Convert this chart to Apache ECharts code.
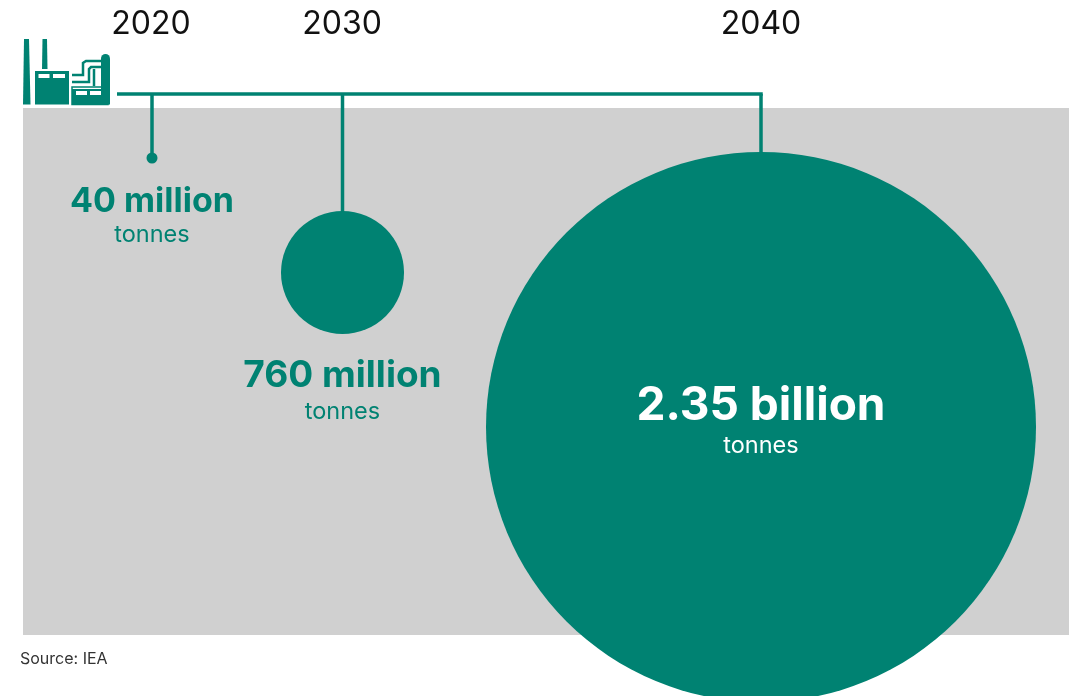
<!DOCTYPE html>
<html><head><meta charset="utf-8">
<style>html,body{margin:0;padding:0;background:#fff;overflow:hidden}#c{width:1079px;height:696px}</style>
<script src="https://cdn.jsdelivr.net/npm/echarts@6/dist/echarts.min.js"></script>
</head><body><div id="c"></div>
<script>
const years = ['2020', '2030', '2040'];
const amounts = ['40 million', '760 million', '2.35 billion'];
const unit = 'tonnes';
const source = 'Source: IEA';

// Layout of the infographic, in page units
const TEAL = '#008272', GREY = '#d0d0d0', FONT = 'Inter, "Noto Sans", sans-serif';
const yearX = [152, 342.5, 761];
const bubbleTop = [152.5, 211, 152];
const bubbleSize = [11, 123, 550];
const amountY = [202, 376, 406];
const amountFont = [34, 37, 46];
const unitY = [235, 412, 446];
const unitFont = [23.5, 23.5, 23.5];
const unitColor = [TEAL, TEAL, '#ffffff'];
const amountColor = [TEAL, TEAL, '#ffffff'];
const railY = 94, railStart = 117;

const textSeries = (name, data) => ({
  type: 'scatter', name, symbolSize: 0, silent: true, z: 10, data,
  itemStyle: {opacity: 1},
  label: {show: true, position: 'inside', formatter: p => p.data.text, opacity: 1,
    fontFamily: FONT, align: 'center', verticalAlign: 'middle'},
  labelLayout: {hideOverlap: false}
});

const option = {
  animation: false,
  title: {text: source, left: 20, top: 651, padding: 0, textStyle: {fontFamily: FONT, fontSize: 16, fontWeight: 400, color: '#333'}},
  grid: {left: 0, right: 0, top: 0, bottom: 0},
  xAxis: {type: 'value', min: 0, max: 1079, show: false},
  yAxis: {type: 'value', min: 0, max: 696, inverse: true, show: false},
  graphic: {elements: [{
    type: 'group', left: 23, top: 39, z: 20,
    children: [
      {type:'polygon',shape:{points:[[1,0],[6,0],[7.5,65.5],[0,65.5]]},style:{fill:TEAL}},
      {type:'polygon',shape:{points:[[19.5,0],[24,0],[24.5,30],[19,30]]},style:{fill:TEAL}},
      {type:'rect',shape:{x:12,y:32,width:34,height:33.5},style:{fill:TEAL}},
      {type:'rect',shape:{x:15.5,y:35,width:11,height:4},style:{fill:'#fff'}},
      {type:'rect',shape:{x:30,y:35,width:12,height:4},style:{fill:'#fff'}},
      {type:'rect',shape:{x:49,y:48,width:36,height:17.5},style:{fill:'none',stroke:TEAL,lineWidth:1.5}},
      {type:'rect',shape:{x:49,y:50,width:34,height:15.5},style:{fill:TEAL}},
      {type:'rect',shape:{x:53,y:52,width:11,height:4},style:{fill:'#fff'}},
      {type:'rect',shape:{x:67,y:52,width:12,height:4},style:{fill:'#fff'}},
      {type:'rect',shape:{x:78,y:15,width:9,height:50.5,r:[4.5,4.5,0,0]},style:{fill:TEAL}},
      {type:'polyline',shape:{points:[[49,36],[60,36],[60,24],[63,22],[78,22]]},style:{fill:'none',stroke:TEAL,lineWidth:2.5}},
      {type:'polyline',shape:{points:[[49,43],[66,43],[66,30],[68,28],[78,28]]},style:{fill:'none',stroke:TEAL,lineWidth:2.5}},
      {type:'line',shape:{x1:71,y1:30,x2:71,y2:47},style:{stroke:TEAL,lineWidth:2.5}}
    ]
  }]},
  series: [
    {type: 'line', silent: true, symbol: 'none', z: 1, data: [],
     markArea: {silent: true, itemStyle: {color: GREY, opacity: 1}, data: [[{coord: [23, 108]}, {coord: [1069, 635]}]]}},
    {type: 'line', silent: true, symbol: 'none', z: 3, lineStyle: {color: TEAL, width: 3.5},
     data: [[railStart, railY], [yearX[2] + 1.75, railY]]},
    ...years.map((y, i) => ({
      type: 'line', silent: true, symbol: 'none', z: 3, lineStyle: {color: TEAL, width: 3.5},
      data: [[yearX[i], railY], [yearX[i], bubbleTop[i] + 3]]
    })),
    {type: 'scatter', silent: true, z: 4, symbol: 'circle', itemStyle: {color: TEAL, opacity: 1},
     clip: false,
     data: years.map((y, i) => ({value: [yearX[i], bubbleTop[i] + bubbleSize[i] / 2], symbolSize: bubbleSize[i]}))},
    textSeries('years', years.map((y, i) => ({value: [[151, 342, 761][i], 24], text: y,
      label: {fontSize: 32, color: '#111', fontWeight: 400}}))),
    textSeries('amounts', amounts.map((a, i) => ({value: [yearX[i], amountY[i]], text: a,
      label: {fontSize: amountFont[i], color: amountColor[i], fontWeight: 700}}))),
    textSeries('units', years.map((y, i) => ({value: [yearX[i], unitY[i]], text: unit,
      label: {fontSize: unitFont[i], color: unitColor[i], fontWeight: 400}})))
  ]
};
echarts.init(document.getElementById('c'), null, {renderer: 'canvas'}).setOption(option);
</script></body></html>
